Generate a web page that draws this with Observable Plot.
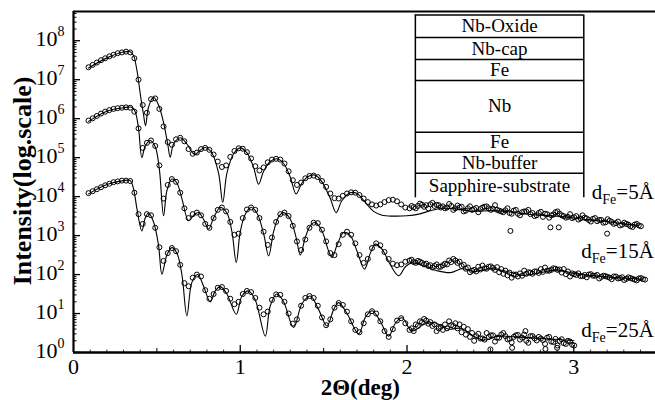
<!DOCTYPE html>
<html><head><meta charset="utf-8">
<script src="https://cdn.jsdelivr.net/npm/d3@7"></script>
<script src="https://cdn.jsdelivr.net/npm/@observablehq/plot@0.6"></script>
<style>
html,body{margin:0;padding:0;background:#fff;}
#chart svg{display:block;}
#chart svg text, #chart svg tspan{font-family:"Liberation Serif","Times New Roman",serif !important;}
</style></head><body><div id="chart"></div>
<script>
// ---------- DATA (log10 of intensity) ----------
// measured scan: regular 2Theta grid
const scanStart = 0.09, scanStep = 0.025;
// d_Fe = 5 Å (measured points)
const logI5 = [7.32,7.38,7.44,7.50,7.55,7.60,7.64,7.68,7.70,7.72,7.70,7.55,7.00,6.35,6.15,6.50,6.52,6.25,5.80,5.40,5.33,5.47,5.51,5.42,5.22,5.10,5.13,5.22,5.25,5.20,5.08,4.90,4.76,4.80,5.02,5.17,5.24,5.23,5.14,4.98,4.78,4.67,4.75,4.88,4.95,4.97,4.95,4.85,4.65,4.42,4.30,4.36,4.47,4.53,4.54,4.50,4.40,4.25,4.08,3.96,3.95,4.02,4.08,4.11,4.10,4.04,3.95,3.86,3.80,3.77,3.80,3.86,3.91,3.92,3.88,3.80,3.72,3.70,3.73,3.76,3.79,3.78,3.80,3.76,3.78,3.75,3.72,3.76,3.70,3.72,3.62,3.70,3.66,3.71,3.68,3.74,3.70,3.69,3.66,3.62,3.65,3.58,3.64,3.56,3.60,3.62,3.55,3.50,3.58,3.48,3.55,3.52,3.60,3.56,3.50,3.48,3.45,3.50,3.44,3.46,3.40,3.43,3.37,3.40,3.34,3.38,3.30,3.36,3.28,3.30,3.24,3.28,3.26];
// d_Fe = 15 Å
const logI15 = [5.95,6.01,6.07,6.13,6.18,6.22,6.25,6.27,6.28,6.29,6.28,6.18,5.75,5.25,5.38,5.44,5.30,4.80,3.95,4.30,4.45,4.38,4.10,3.70,3.45,3.55,3.59,3.52,3.30,3.20,3.45,3.66,3.72,3.62,3.35,3.02,3.05,3.45,3.67,3.72,3.66,3.45,3.10,2.76,2.95,3.35,3.55,3.59,3.50,3.25,2.85,2.63,2.90,3.20,3.33,3.32,3.15,2.85,2.55,2.50,2.78,3.02,3.10,3.02,2.80,2.50,2.30,2.40,2.68,2.80,2.75,2.58,2.40,2.28,2.24,2.26,2.33,2.36,2.32,2.35,2.30,2.28,2.24,2.22,2.20,2.24,2.26,2.32,2.36,2.33,2.25,2.18,2.10,2.08,2.13,2.16,2.20,2.17,2.19,2.14,2.10,2.05,2.00,1.95,1.97,2.02,2.05,2.08,2.04,2.07,2.10,2.12,2.15,2.13,2.14,2.08,2.03,1.99,1.96,1.99,2.00,1.97,1.99,1.94,1.96,1.92,1.95,1.90,1.93,1.89,1.91,1.87,1.90,1.88];
// d_Fe = 25 Å
const logI25 = [4.09,4.14,4.19,4.24,4.29,4.33,4.37,4.39,4.41,4.41,4.40,4.10,3.55,3.30,3.55,3.52,3.20,2.70,2.35,2.55,2.68,2.60,2.25,1.78,1.70,1.92,2.00,1.95,1.60,1.38,1.50,1.66,1.68,1.58,1.38,1.24,1.30,1.50,1.58,1.55,1.40,1.15,0.98,1.05,1.35,1.49,1.48,1.30,1.00,0.74,0.85,1.20,1.40,1.45,1.40,1.20,0.90,0.70,0.85,1.15,1.27,1.22,1.05,0.80,0.58,0.52,0.75,0.98,1.06,1.00,0.80,0.55,0.40,0.60,0.82,0.88,0.75,0.58,0.55,0.68,0.78,0.82,0.78,0.72,0.62,0.58,0.62,0.70,0.75,0.72,0.66,0.60,0.50,0.42,0.36,0.33,0.40,0.44,0.38,0.46,0.42,0.35,0.40,0.45,0.38,0.30,0.42,0.36,0.40,0.32,0.38,0.28,0.35,0.30,0.24,0.30,0.20];
// interleaved points of the noisy high-angle tails (second pass of the scan)
const tailStart = 2.0275;
const tail5 = [3.76,3.70,3.82,3.74,3.70,3.84,3.79,3.72,3.70,3.81,3.66,3.77,3.74,3.64,3.75,3.68,3.60,3.72,3.75,3.66,3.78,3.64,3.60,3.70,3.56,3.66,3.52,3.62,3.66,3.58,3.52,3.61,3.56,3.46,3.54,3.62,3.52,3.46,3.55,3.47,3.41,3.52,3.44,3.36,3.45,3.40,3.33,3.42,3.35,3.32,3.26,3.33,3.28,3.22,3.30,3.24];
const tail15 = [2.38,2.30,2.33,2.26,2.22,2.18,2.26,2.20,2.28,2.36,2.40,2.30,2.22,2.15,2.06,2.12,2.20,2.23,2.15,2.21,2.12,2.06,2.02,1.98,1.92,2.00,2.03,2.10,2.06,2.02,2.08,2.14,2.18,2.10,2.16,2.12,2.05,2.01,1.95,2.01,2.03,1.96,1.93,2.01,1.97,1.90,1.97,1.94,1.88,1.95,1.91,1.86,1.93,1.89,1.85,1.91,1.87];
const tail25 = [0.62,0.72,0.80,0.86,0.74,0.68,0.55,0.66,0.72,0.80,0.68,0.62,0.52,0.46,0.40,0.30,0.48,0.36,0.50,0.44,0.28,0.38,0.50,0.34,0.26,0.44,0.33,0.46,0.25,0.42,0.31,0.36,0.22,0.40,0.27,0.18,0.34,0.22,0.28,0.18];
// isolated scattered points [2Theta, log10 I]
const strayX = [2.62,2.86,2.91,3.20,2.50,2.63,2.71,2.83,2.90];
const strayY = [3.12,3.21,3.21,3.05,0.08,0.12,0.55,0.09,0.12];

// fitted curves (2Theta, log10 I)
const fit5X = [0.09,0.2,0.3,0.34,0.36,0.38,0.40,0.42,0.432,0.45,0.48,0.51,0.54,0.565,0.58,0.60,0.64,0.68,0.715,0.73,0.75,0.79,0.83,0.87,0.895,0.92,0.96,1.0,1.04,1.08,1.11,1.14,1.18,1.22,1.26,1.30,1.335,1.37,1.41,1.45,1.49,1.54,1.575,1.61,1.66,1.70,1.75,1.80,1.85,1.92,2.0,2.07,2.15,2.22,2.3,2.4,2.5,2.6,2.7,2.8,2.9,3.0,3.1,3.2,3.3,3.39];
const fit5Y = [7.30,7.56,7.71,7.72,7.62,7.25,6.65,6.10,5.82,6.30,6.55,6.35,5.90,5.35,5.01,5.35,5.51,5.35,5.12,5.08,5.15,5.26,5.12,4.60,3.85,4.60,5.10,5.25,5.12,4.75,4.32,4.65,4.90,4.97,4.85,4.50,4.07,4.35,4.52,4.55,4.38,3.95,3.59,3.90,4.10,4.08,3.85,3.62,3.52,3.50,3.51,3.55,3.65,3.70,3.68,3.62,3.64,3.62,3.56,3.52,3.50,3.45,3.40,3.36,3.30,3.26];
const fit15X = [0.09,0.2,0.3,0.35,0.37,0.39,0.41,0.43,0.46,0.49,0.515,0.54,0.56,0.59,0.62,0.65,0.69,0.72,0.75,0.78,0.81,0.84,0.88,0.92,0.95,0.976,1.0,1.03,1.065,1.10,1.14,1.17,1.20,1.23,1.26,1.30,1.335,1.36,1.39,1.42,1.45,1.49,1.53,1.55,1.58,1.62,1.66,1.70,1.745,1.78,1.81,1.85,1.90,1.95,1.99,2.03,2.1,2.18,2.26,2.33,2.4,2.5,2.6,2.7,2.8,2.9,3.0,3.1,3.2,3.3,3.41];
const fit15Y = [5.93,6.19,6.28,6.29,6.18,5.75,5.00,5.30,5.44,5.28,4.70,3.51,4.15,4.45,4.35,3.95,3.38,3.52,3.59,3.42,3.17,3.45,3.72,3.58,3.10,2.31,3.10,3.55,3.72,3.58,3.05,2.48,3.10,3.48,3.59,3.42,2.95,2.50,2.95,3.25,3.34,3.12,2.60,2.44,2.75,3.08,3.00,2.60,2.14,2.55,2.78,2.65,2.25,1.97,2.20,2.30,2.22,2.10,2.05,2.15,2.08,2.15,2.08,1.98,2.05,2.12,2.03,1.98,1.94,1.91,1.88];
const fit25X = [0.09,0.2,0.3,0.34,0.36,0.38,0.41,0.43,0.45,0.48,0.51,0.53,0.56,0.59,0.62,0.65,0.68,0.71,0.745,0.78,0.82,0.85,0.88,0.92,0.976,1.01,1.05,1.09,1.15,1.18,1.22,1.26,1.32,1.37,1.42,1.47,1.52,1.56,1.59,1.64,1.71,1.75,1.79,1.84,1.89,1.93,1.97,2.03,2.1,2.16,2.25,2.32,2.4,2.46,2.55,2.65,2.75,2.85,2.95,3.0];
const fit25Y = [4.07,4.31,4.41,4.41,4.20,3.70,3.12,3.45,3.58,3.35,2.75,2.01,2.50,2.69,2.55,2.00,0.94,1.80,2.00,1.70,1.30,1.58,1.69,1.50,0.98,1.45,1.58,1.35,0.42,1.20,1.50,1.30,0.64,1.25,1.45,1.10,0.68,1.10,1.28,1.00,0.48,0.90,1.07,0.80,0.42,0.75,0.89,0.55,0.72,0.77,0.60,0.62,0.42,0.32,0.42,0.40,0.38,0.35,0.32,0.30];

// labels
const dFeLabels = ["5", "15", "25"];
const layerNames = ["Nb-Oxide","Nb-cap","Fe","Nb","Fe","Nb-buffer","Sapphire-substrate"];
const xTickLabels = [0, 1, 2, 3];
const decadeExps = [0,1,2,3,4,5,6,7,8];

// ---------- LAYOUT ----------
const W = 655, H = 400, mL = 73, mR = 0, mT = 11, mB = 48;
const xMax = 3.49, yMaxExp = 8.75;
const frameW = W - mL - mR, frameH = H - mT - mB;
const insetX1 = 2.05, insetX2 = 3.06;                   // in 2Theta units
const insetEdges = [8.66, 8.08, 7.52, 6.98, 5.65, 5.14, 4.60, 3.97]; // log10 I, top to bottom
const dFeLabelX = 3.48, dFeLabelY = [3.94, 2.425, 0.40];

// ---------- BUILD ----------
const pts = (arr, start) => arr.map((v, i) => ({x: start + i * scanStep, y: 10 ** v}));
const fitPts = (xs, ys) => xs.map((x, i) => ({x, y: 10 ** ys[i]}));
const strayPts = strayX.map((x, i) => ({x, y: 10 ** strayY[i]}));
const allPts = [
  ...pts(logI5, scanStart), ...pts(logI15, scanStart), ...pts(logI25, scanStart),
  ...pts(tail5, tailStart), ...pts(tail15, tailStart), ...pts(tail25, tailStart),
  ...strayPts
];

const majorY = decadeExps.map(k => 10 ** k);
const minorY = [];
for (const k of decadeExps) for (let m = 2; m <= 9; m++) if (Math.log10(m * 10 ** k) <= yMaxExp) minorY.push(m * 10 ** k);
const majorX = [1, 2, 3];
const halfX = [0.5, 1.5, 2.5];
const minorX = [];
for (let i = 1; i < 35; i++) if (i % 5 !== 0) minorX.push(i / 10);

const layers = layerNames.map((name, i) => ({name, mid: 10 ** ((insetEdges[i] + insetEdges[i + 1]) / 2)}));
const sepLines = insetEdges.slice(0, -1).map(e => 10 ** e);

const font = "Liberation Serif";
const txt = {fontFamily: font, fill: "black"};

const plot = Plot.plot({
  width: W, height: H,
  marginLeft: mL, marginRight: mR, marginTop: mT, marginBottom: mB,
  x: {domain: [0, xMax], axis: null},
  y: {type: "log", domain: [1, 10 ** yMaxExp], axis: null},
  style: {fontFamily: font, background: "white", color: "black"},
  marks: [
    // inset layer diagram
    Plot.ruleY(sepLines, {y: d => d, x1: insetX1, x2: insetX2, stroke: "black", strokeWidth: 1.5}),
    Plot.ruleX([insetX1, insetX2], {x: d => d, y1: 10 ** insetEdges[insetEdges.length - 1], y2: 10 ** insetEdges[0], stroke: "black", strokeWidth: 1.5}),
    Plot.text(layers, {x: (insetX1 + insetX2) / 2, y: "mid", text: "name", fontSize: 19, ...txt}),
    // fits
    Plot.line(fitPts(fit5X, fit5Y), {x: "x", y: "y", curve: "catmull-rom", stroke: "black", strokeWidth: 1.1}),
    Plot.line(fitPts(fit15X, fit15Y), {x: "x", y: "y", curve: "catmull-rom", stroke: "black", strokeWidth: 1.1}),
    Plot.line(fitPts(fit25X, fit25Y), {x: "x", y: "y", curve: "catmull-rom", stroke: "black", strokeWidth: 1.1}),
    // measured points
    Plot.dot(allPts, {x: "x", y: "y", r: 2.5, stroke: "black", strokeWidth: 1, fill: "none"}),
    // axes lines
    Plot.ruleX([0], {stroke: "black", strokeWidth: 2.2}),
    Plot.ruleY([1], {stroke: "black", strokeWidth: 2.5}),
    Plot.ruleY([10 ** yMaxExp], {stroke: "black", strokeWidth: 2}),
    // ticks (inward)
    Plot.tickY(majorY, {y: d => d, insetRight: frameW - 7, stroke: "black", strokeWidth: 1.3}),
    Plot.tickY(minorY, {y: d => d, insetRight: frameW - 3.5, stroke: "black", strokeWidth: 1}),
    Plot.tickX(majorX, {x: d => d, insetTop: frameH - 7, stroke: "black", strokeWidth: 1.3}),
    Plot.tickX(halfX, {x: d => d, insetTop: frameH - 4, stroke: "black", strokeWidth: 1}),
    Plot.tickX(minorX, {x: d => d, insetTop: frameH - 2.5, stroke: "black", strokeWidth: 0.8}),
    // y tick labels 10^k
    Plot.text(decadeExps, {y: k => 10 ** k, text: () => "10", frameAnchor: "left", textAnchor: "end", lineAnchor: "bottom", dx: -16, dy: 5, fontSize: 22, ...txt}),
    Plot.text(decadeExps, {y: k => 10 ** k, text: k => String(k), frameAnchor: "left", textAnchor: "start", lineAnchor: "bottom", dx: -16, dy: -4.5, fontSize: 14, ...txt}),
    // x tick labels
    Plot.text(xTickLabels, {x: d => d, text: d => String(d), frameAnchor: "bottom", textAnchor: "middle", lineAnchor: "bottom", dy: 21, fontSize: 22, ...txt}),
    // axis titles
    Plot.text(["2\u0398(deg)"], {x: 1.72, text: d => d, frameAnchor: "bottom", textAnchor: "middle", lineAnchor: "bottom", dy: 42, fontSize: 23, fontWeight: "bold", ...txt}),
    Plot.text(["Intensity(log.scale)"], {y: 10 ** 4.4, text: d => d, frameAnchor: "left", textAnchor: "middle", lineAnchor: "middle", dx: -51, rotate: -90, fontSize: 26, fontWeight: "bold", ...txt}),
    // d_Fe labels (subscript added below)
    Plot.text(dFeLabels, {x: dFeLabelX, y: (d, i) => 10 ** dFeLabelY[i], text: d => "dFe=" + d + "\u00C5", textAnchor: "end", lineAnchor: "bottom", fontSize: 21, ...txt})
  ]
});

// rebuild the d_Fe labels with a real subscript
d3.select(plot).selectAll("text").each(function() {
  const t = d3.select(this);
  const s = t.text();
  if (!s.startsWith("dFe=")) return;
  t.text(null);
  t.append("tspan").text("d");
  t.append("tspan").attr("font-size", 14).attr("dy", 5).text("Fe");
  t.append("tspan").attr("dy", -5).text(s.slice(3));
});

document.getElementById("chart").appendChild(plot);
</script></body></html>
